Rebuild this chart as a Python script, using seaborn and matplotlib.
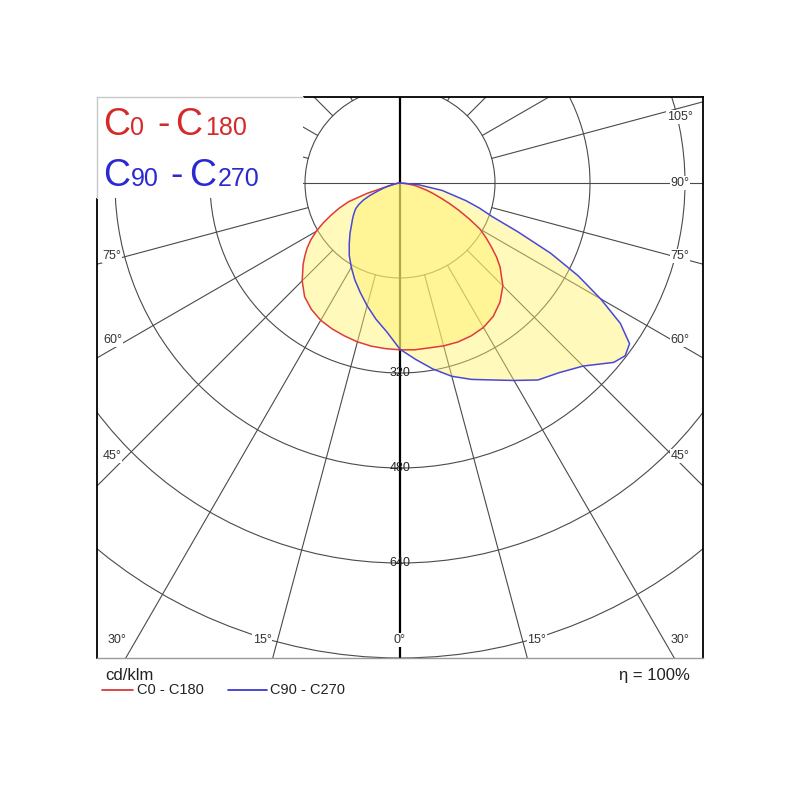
import numpy as np
import pandas as pd
import matplotlib
matplotlib.use("Agg")
import matplotlib.pyplot as plt
from matplotlib.patches import Rectangle, Circle
from matplotlib.lines import Line2D
import seaborn as sns

# gamma angles (deg from nadir) and luminous intensity (cd/klm)
gamma = [0, 5, 10, 15, 20, 25, 30, 35, 40, 45, 50, 52.5, 55, 57.5, 60,
         62.5, 65, 67.5, 70, 72.5, 75, 80, 85, 90]
c0 = [281, 282, 282, 284, 285, 284, 281, 274, 262, 245, 220, 205, 188, 172, 156,
      132, 110, 90, 72, 58, 46, 27, 11, 0]
c180 = [281, 280, 279, 277, 274, 271, 267, 260, 250, 233, 213, 202, 191, 178, 163,
        146, 128, 111, 92, 58, 22, 6, 2, 0]
c90 = [280, 298, 318, 337, 352, 366, 384, 405, 417, 436, 470, 478, 472, 440, 390,
       338, 280, 215, 165, 140, 115, 72, 30, 0]
c270 = [280, 252, 233, 214, 196, 180, 164, 149, 133, 119, 106, 101, 96, 91, 86,
        78, 68, 55, 40, 30, 22, 10, 4, 0]

ring_values = [160, 320, 480, 640, 800]
ring_labels = [320, 480, 640]
angle_labels = ["105°", "90°", "75°", "60°", "45°", "30°", "15°", "0°",
                "15°", "30°", "45°", "60°", "75°"]
# label centres in picture pixels
angle_label_px = [(680, 117), (680, 183), (680, 256), (680, 340), (680, 456),
                  (680, 640), (537, 640), (400, 640), (262, 640), (117, 640),
                  (112, 456), (113, 340), (112, 256)]

S = 95 / 160  # pixels per cd/klm
CX, CY = 400, 183


def px2data(px, py):
    return (px - CX) / S, (CY - py) / S


def plane(left, right):
    g = np.radians(gamma)
    left = np.array(left, float)
    right = np.array(right, float)
    xl, yl = -left * np.sin(g), -left * np.cos(g)
    xr, yr = right * np.sin(g), -right * np.cos(g)
    return pd.DataFrame({"x": np.concatenate([xl[::-1], xr[1:]]),
                         "y": np.concatenate([yl[::-1], yr[1:]])})


sns.set_style("white")
plt.rcParams["font.family"] = ["Liberation Sans", "DejaVu Sans"]

fig = plt.figure(figsize=(8, 8), dpi=100)
ax = fig.add_axes([97 / 800, 142 / 800, 606 / 800, 561 / 800])
x0, y1 = px2data(97, 97)
x1, y0 = px2data(703, 658)
ax.set_xlim(x0, x1)
ax.set_ylim(y0, y1)
ax.set_xticks([])
ax.set_yticks([])

gcol = "#4a4a4a"
for r in ring_values:
    ax.add_patch(Circle((0, 0), r, fill=False, ec=gcol, lw=0.8, zorder=1))
for a in range(0, 360, 15):
    t = np.radians(a)
    if a in (0, 180):
        continue
    r0 = 0 if a in (90, 270) else 160
    ax.plot([r0 * np.sin(t), 1200 * np.sin(t)], [-r0 * np.cos(t), -1200 * np.cos(t)],
            color=gcol, lw=0.8, zorder=1)
ax.plot([0, 0], [y0, y1], color="black", lw=1.6, zorder=1.2)

planes = [(plane(c180, c0), "#e03a3a"), (plane(c270, c90), "#4848d8")]
for df, col in planes:
    ax.fill(df["x"], df["y"], color="#fff26a", alpha=0.45, lw=0, zorder=2)
for df, col in planes:
    sns.lineplot(data=df, x="x", y="y", sort=False, estimator=None, color=col,
                 lw=1.1, ax=ax, zorder=2.5)
ax.set_xlabel("")
ax.set_ylabel("")

for v in ring_labels:
    ax.text(0, -v, str(v), ha="center", va="center", fontsize=9, color="#222222", zorder=3)

for lab, (px, py) in zip(angle_labels, angle_label_px):
    xd, yd = px2data(px, py)
    ax.text(xd, yd, lab, ha="center", va="center", fontsize=9, color="#333333", zorder=3.5,
            bbox=dict(fc="white", ec="none", pad=0.6))

for side in ["left", "right", "top"]:
    ax.spines[side].set_color("black")
    ax.spines[side].set_linewidth(1.3)
ax.spines["bottom"].set_color("#9a9a9a")
ax.spines["bottom"].set_linewidth(1.0)

# white legend area in the top-left corner
bx1, by0 = px2data(303, 198)
ax.add_patch(Rectangle((x0 - 6, by0), bx1 - x0 + 6, y1 - by0 + 6, fc="white", ec="none",
                       clip_on=False, zorder=3))
fig.add_artist(Line2D([97 / 800, 303 / 800], [1 - 97 / 800] * 2, color="#c8c8c8", lw=1))
fig.add_artist(Line2D([97 / 800] * 2, [1 - 97 / 800, 1 - 198 / 800], color="#c8c8c8", lw=1))

red, blue = "#d42a2a", "#2a2ad0"
big, small = 27, 18
for s, px, fs in [("C", 103, big), ("0", 130, small), ("-", 157, big), ("C", 175, big),
                  ("180", 205, small)]:
    fig.text(px / 800, 1 - 135 / 800, s, color=red, fontsize=fs, va="baseline", ha="left")
for s, px, fs in [("C", 103, big), ("90", 131, small), ("-", 170, big), ("C", 189, big),
                  ("270", 218, small)]:
    fig.text(px / 800, 1 - 186 / 800, s, color=blue, fontsize=fs, va="baseline", ha="left")

fig.text(105 / 800, 1 - 680 / 800, "cd/klm", fontsize=12, color="#222222", va="baseline")
fig.text(690 / 800, 1 - 680 / 800, "η = 100%", fontsize=12, color="#222222",
         va="baseline", ha="right")
fig.add_artist(Line2D([102 / 800, 133 / 800], [1 - 690 / 800] * 2, color=red, lw=1.2))
fig.text(137 / 800, 1 - 690 / 800, "C0 - C180", fontsize=10.5, color="#222222", va="center")
fig.add_artist(Line2D([228 / 800, 267 / 800], [1 - 690 / 800] * 2, color=blue, lw=1.2))
fig.text(270 / 800, 1 - 690 / 800, "C90 - C270", fontsize=10.5, color="#222222", va="center")

fig.savefig("out.png", dpi=100, facecolor="white")
